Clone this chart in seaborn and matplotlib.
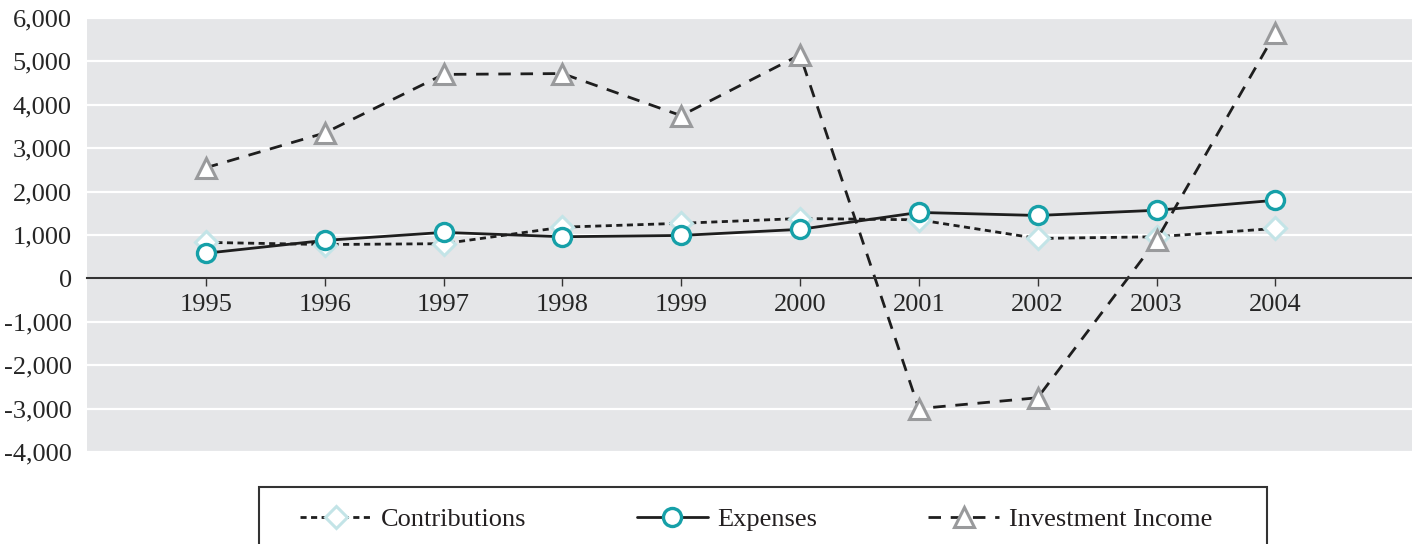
import pandas as pd
import numpy as np
import matplotlib
matplotlib.use("Agg")
import matplotlib.pyplot as plt
from matplotlib.ticker import FuncFormatter
from matplotlib.patches import Rectangle
import seaborn as sns

# values
years = [1995, 1996, 1997, 1998, 1999, 2000, 2001, 2002, 2003, 2004]
contributions = [830, 780, 800, 1180, 1270, 1380, 1350, 920, 960, 1150]
expenses = [580, 875, 1060, 960, 990, 1130, 1520, 1450, 1570, 1800]
investment_income = [2550, 3350, 4700, 4720, 3750, 5150, -3000, -2750, 880, 5650]

series_names = ["Contributions", "Expenses", "Investment Income"]
y_ticks = [-4000, -3000, -2000, -1000, 0, 1000, 2000, 3000, 4000, 5000, 6000]

df = pd.DataFrame({
    "year": years * 3,
    "value": contributions + expenses + investment_income,
    "series": np.repeat(series_names, len(years)),
})

sns.set_style("darkgrid", {"axes.facecolor": "#E5E6E8", "grid.color": "white"})
plt.rcParams["font.family"] = ["Liberation Serif", "DejaVu Serif"]
plt.rcParams["text.color"] = "#231F20"

fig = plt.figure(figsize=(14.12, 5.44), dpi=100)
ax = fig.add_axes([87 / 1412, 1 - 452 / 544, 1 - 87 / 1412, (452 - 18) / 544])

styles = {
    "Contributions": dict(marker="D", markersize=11, markeredgecolor="#C3E4E7",
                          markerfacecolor="white", markeredgewidth=2.2,
                          linestyle=(0, (2.2, 1.6)), linewidth=2.0),
    "Expenses": dict(marker="o", markersize=13, markeredgecolor="#16A0A8",
                     markerfacecolor="white", markeredgewidth=2.4,
                     linestyle="-", linewidth=2.0),
    "Investment Income": dict(marker="^", markersize=14, markeredgecolor="#999A9C",
                              markerfacecolor="white", markeredgewidth=2.2,
                              linestyle=(0, (4.5, 3.5)), linewidth=2.0),
}

for name in series_names:
    sub = df[df["series"] == name]
    sns.lineplot(data=sub, x="year", y="value", ax=ax, color="#1E1E1E",
                 label=name, legend=False, **styles[name])

ax.set_xlim(1994.0, 2005.15)
ax.set_ylim(-4000, 6000)
ax.set_xticks(years)
ax.set_yticks(y_ticks)
ax.yaxis.set_major_formatter(FuncFormatter(lambda v, p: f"{v:,.0f}"))
ax.grid(axis="x", visible=False)
ax.grid(axis="y", color="white", linewidth=1.6)
ax.set_xlabel("")
ax.set_ylabel("")

for s in ["top", "right", "left"]:
    ax.spines[s].set_visible(False)
ax.spines["bottom"].set_position(("data", 0))
ax.spines["bottom"].set_color("#333333")
ax.spines["bottom"].set_linewidth(1.5)
ax.spines["bottom"].set_visible(True)

ax.tick_params(axis="x", length=6, width=1, color="#333333", direction="out",
               pad=5, labelsize=19, bottom=True)
ax.tick_params(axis="y", length=0, pad=11, labelsize=19)

handles, labels = ax.get_legend_handles_labels()
leg = fig.legend(handles, labels, loc="upper left", ncol=3,
                 bbox_to_anchor=(300 / 1412, 1 - 508 / 544),
                 frameon=False, fontsize=19, handlelength=2.7, handletextpad=0.35,
                 columnspacing=4.2, borderaxespad=0, borderpad=0)

fig.patches.append(Rectangle((259 / 1412, -0.05), (1267 - 259) / 1412, 0.05 + 1 - 487 / 544,
                             transform=fig.transFigure, fill=False,
                             edgecolor="#333333", linewidth=1.5))

fig.savefig("out.png", dpi=100)
